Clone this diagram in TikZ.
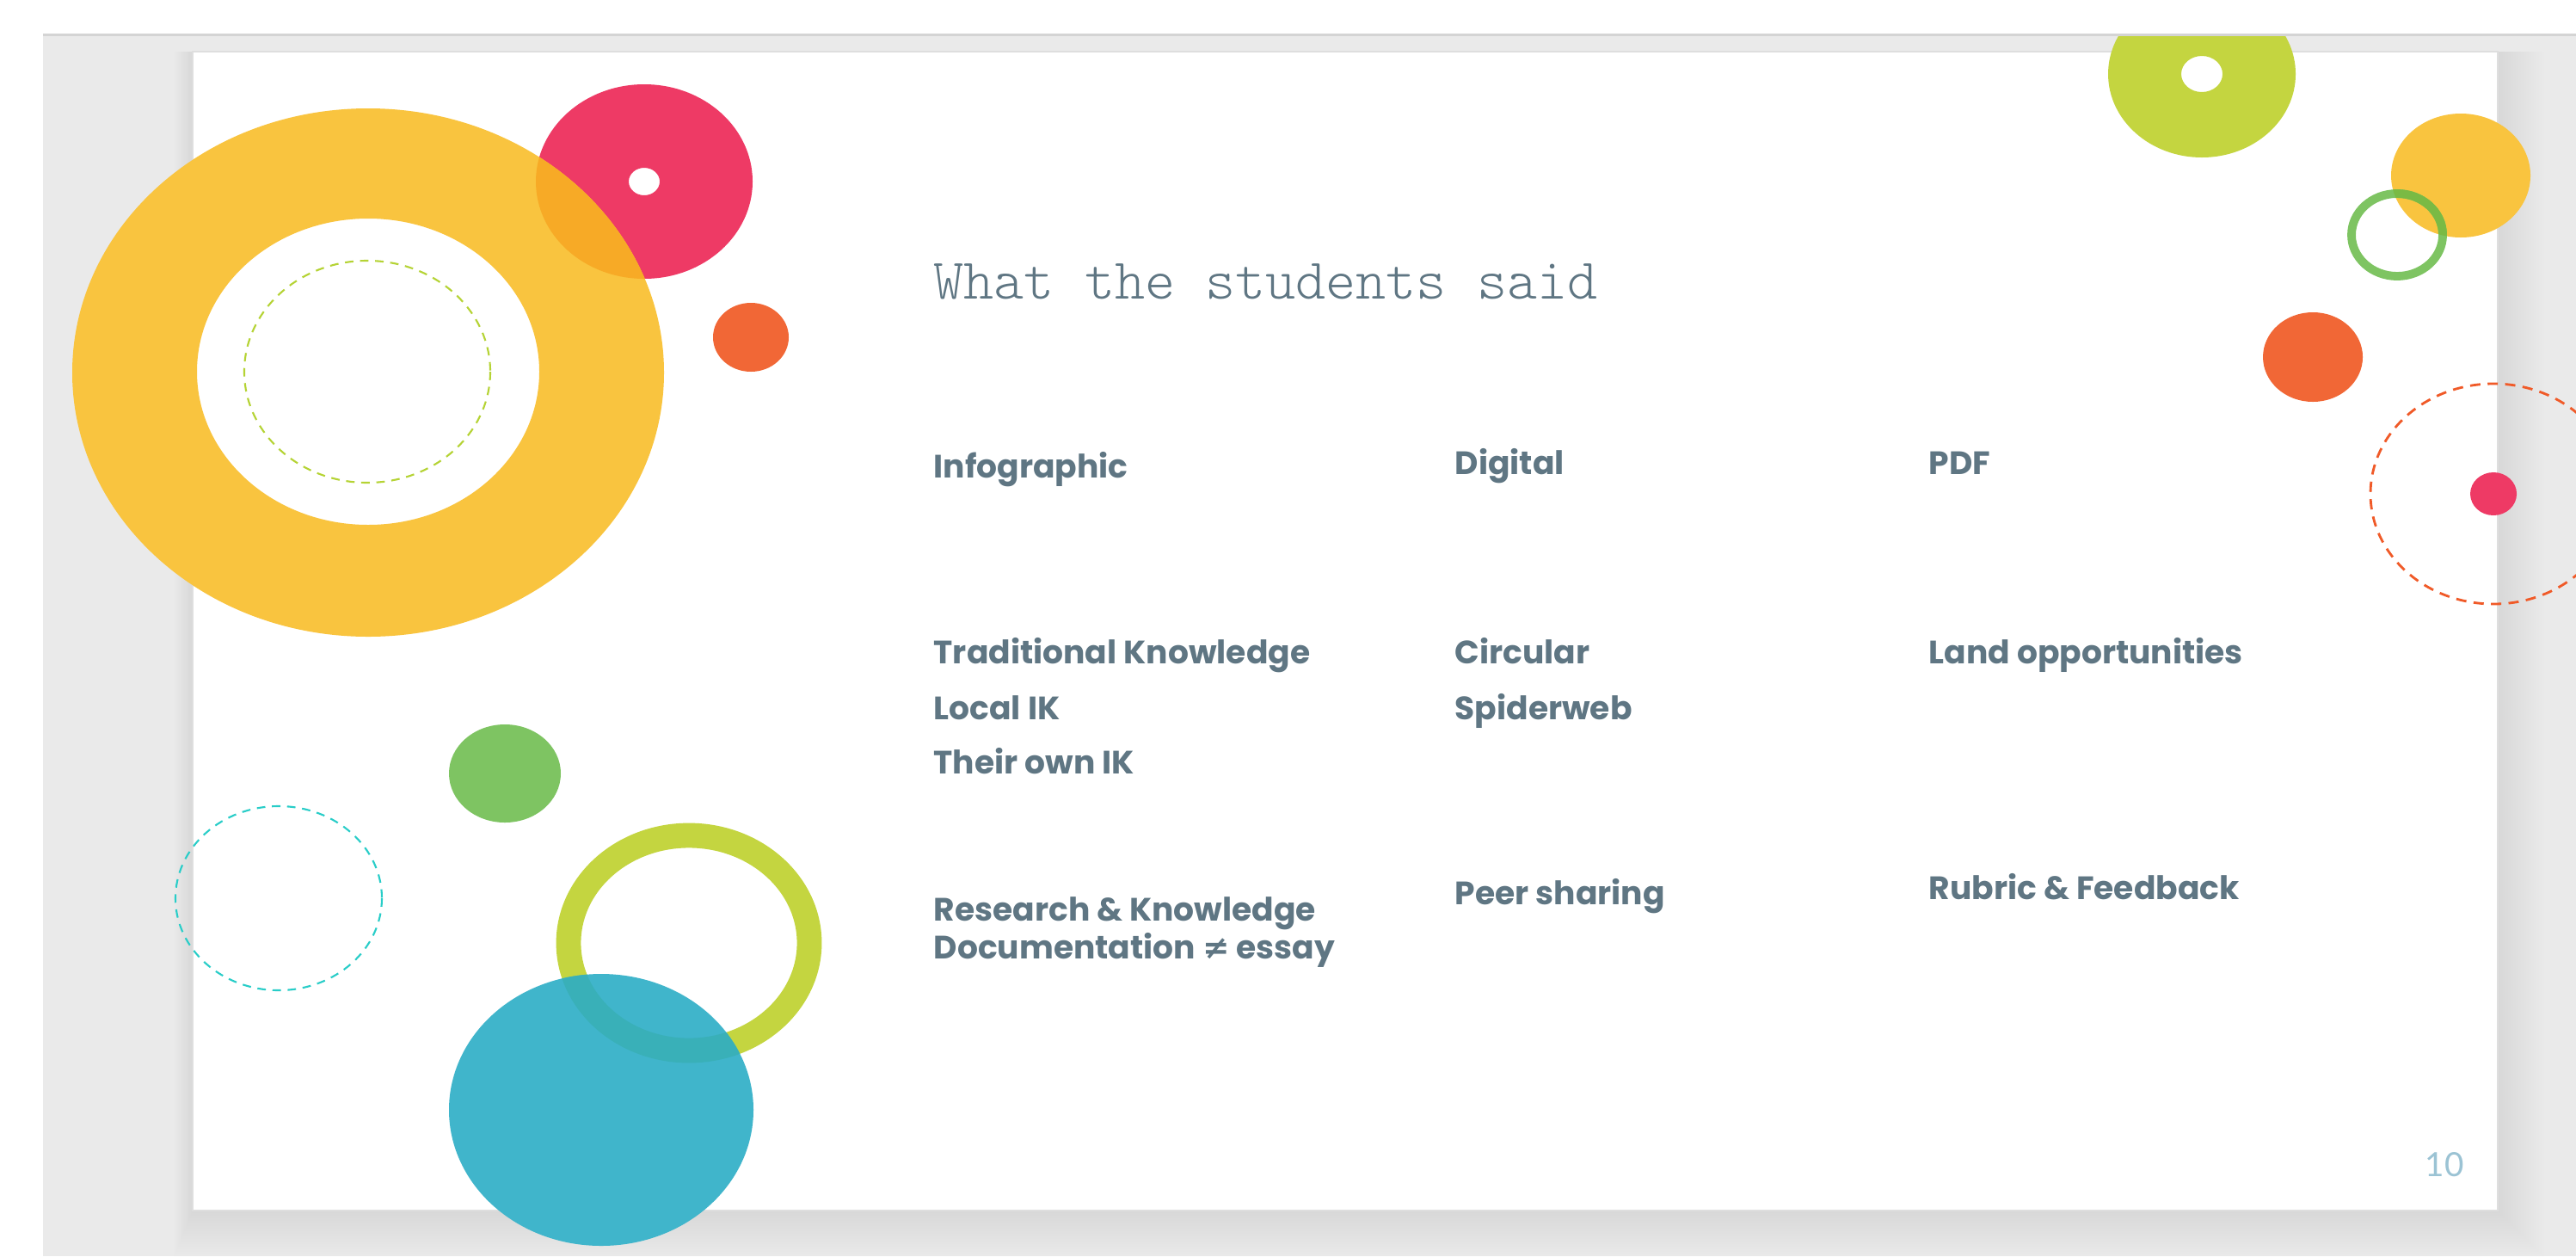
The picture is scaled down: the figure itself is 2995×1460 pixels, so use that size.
\documentclass[tikz,border=0pt]{standalone}
\usepackage{fontspec}
\newfontfamily\bodyfont{Poppins}
\newfontfamily\titlefont{lmmonolt10-regular.otf}
\newfontfamily\numfont{Lato}
\newfontfamily\symfont{DejaVu Sans}
\definecolor{bggray}{RGB}{234,234,234}
\definecolor{linegray}{RGB}{212,212,212}
\definecolor{slideline}{RGB}{222,222,222}
\definecolor{txt}{RGB}{95,118,131}
\definecolor{numblue}{RGB}{155,195,212}
\definecolor{ylw}{RGB}{249,196,63}
\definecolor{ylwpnk}{RGB}{247,170,38}
\definecolor{pnk}{RGB}{238,58,101}
\definecolor{orng}{RGB}{241,103,54}
\definecolor{ygrn}{RGB}{196,213,64}
\definecolor{grn}{RGB}{126,196,98}
\definecolor{grnylw}{RGB}{122,186,68}
\definecolor{blu}{RGB}{64,181,203}
\definecolor{bluyg}{RGB}{57,176,184}
\definecolor{cyandash}{RGB}{40,205,200}
\definecolor{ygdash}{RGB}{181,211,52}
\definecolor{ordash}{RGB}{240,90,40}
\tikzset{
  lbl/.style={anchor=base west, inner sep=0pt, text=txt, font=\bodyfont\bfseries\fontsize{10.7}{13}\selectfont},
  dashring/.style={line width=0.6pt, dash pattern=on 2.8pt off 2.2pt},
}
\begin{document}
\begin{tikzpicture}[x=0.01cm,y=-0.01cm]
\useasboundingbox (0,0) rectangle (2995,1460);
\fill[white] (0,0) rectangle (2995,1460);
\fill[bggray] (50,41) rectangle (2995,1460);
\fill[linegray] (50,39) rectangle (2995,42);
% slide shadow
\foreach \d in {3,6,...,54} {
  \fill[black, opacity=0.0025] (224-\d*0.4,60) rectangle (2904+\d,1407+\d);
}
\fill[white] (224,60) rectangle (2904,1407);
\draw[slideline, line width=0.5pt] (224,60) rectangle (2904,1407);
\begin{scope}
\clip (50,42) rectangle (2995,1460);
% top-left group
\fill[pnk, even odd rule] (749,211) ellipse [x radius=126, y radius=113] (749,211) ellipse [x radius=18, y radius=16];
\fill[ylw, even odd rule] (428,433) ellipse [x radius=344, y radius=307] (428,432) ellipse [x radius=199, y radius=178];
\begin{scope}
\clip (749,211) ellipse [x radius=126, y radius=113];
\fill[ylwpnk, even odd rule] (428,433) ellipse [x radius=344, y radius=307] (428,432) ellipse [x radius=199, y radius=178];
\end{scope}
\draw[ygdash, dashring] (427,432) ellipse [x radius=143, y radius=129];
\fill[orng] (873,392) ellipse [x radius=44, y radius=40];
% bottom-left group
\fill[grn] (587,899) ellipse [x radius=65, y radius=57];
\draw[cyandash, dashring] (324,1044) ellipse [x radius=120, y radius=107];
\draw[ygrn, line width=8.2pt] (801,1096) ellipse [x radius=140, y radius=125];
\fill[blu] (699,1290) ellipse [x radius=177, y radius=158];
\begin{scope}
\clip (699,1290) ellipse [x radius=177, y radius=158];
\draw[bluyg, line width=8.2pt] (801,1096) ellipse [x radius=140, y radius=125];
\end{scope}
% top-right group
\fill[ygrn, even odd rule] (2560,86) ellipse [x radius=109, y radius=97] (2560,86) ellipse [x radius=24, y radius=21];
\fill[ylw] (2861,204) ellipse [x radius=81, y radius=72];
\draw[grn, line width=2.8pt] (2787,273) ellipse [x radius=53, y radius=48];
\begin{scope}
\clip (2861,204) ellipse [x radius=81, y radius=72];
\draw[grnylw, line width=2.8pt] (2787,273) ellipse [x radius=53, y radius=48];
\end{scope}
\fill[orng] (2689,415) ellipse [x radius=58, y radius=52];
\draw[ordash, line width=0.8pt, dash pattern=on 3.4pt off 2.4pt] (2899,574) ellipse [x radius=143, y radius=128];
\fill[pnk] (2899,574) ellipse [x radius=27, y radius=25];
\end{scope}
% title
\node[anchor=base west, inner sep=0pt, text=txt, font=\titlefont\fontsize{19}{22}\selectfont] (title) at (1085,347) {What the students said};
% column 1
\node[lbl] (infographic) at (1085,555) {Infographic};
\node[lbl] (tradk) at (1085,771) {Traditional Knowledge};
\node[lbl] (localik) at (1085,836) {Local IK};
\node[lbl] (ownik) at (1085,899) {Their own IK};
\node[lbl] (research) at (1085,1070) {Research \& Knowledge};
\node[lbl] (document) at (1085,1114) {Documentation {\symfont ≠} essay};
% column 2
\node[lbl] (digital) at (1691,551) {Digital};
\node[lbl] (circular) at (1691,771) {Circular};
\node[lbl] (spider) at (1691,836) {Spiderweb};
\node[lbl] (peer) at (1691,1051) {Peer sharing};
% column 3
\node[lbl] (pdf) at (2242,551) {PDF};
\node[lbl] (land) at (2242,771) {Land opportunities};
\node[lbl] (rubric) at (2242,1045) {Rubric \& Feedback};
% page number
\node[anchor=base, inner sep=0pt, text=numblue, font=\numfont\fontsize{11}{13}\selectfont] (pagenum) at (2842,1367) {10};
\end{tikzpicture}
\end{document}
